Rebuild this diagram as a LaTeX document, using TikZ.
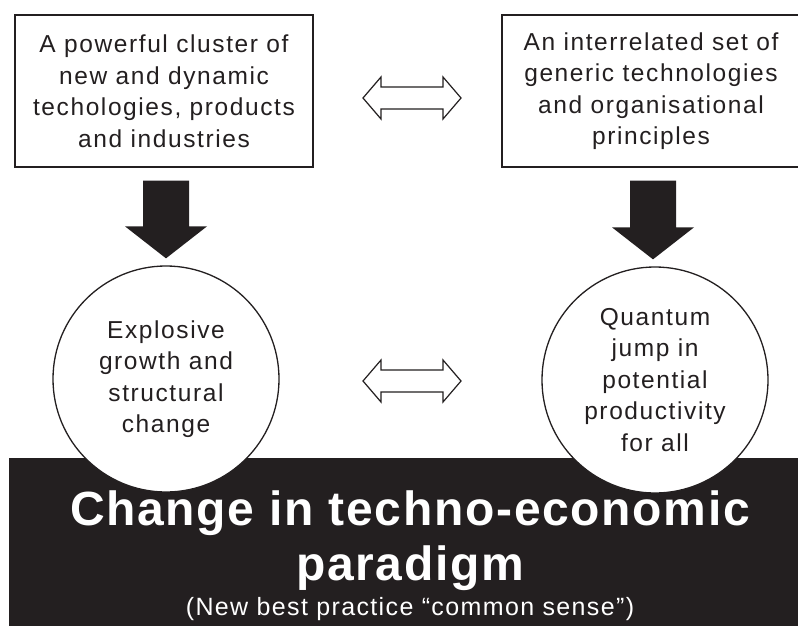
\documentclass[tikz,border=0pt]{standalone}
\usepackage{fontspec}
\setmainfont{Liberation Sans}
\newfontfamily\labelfont[LetterSpace=6.5]{Liberation Sans}
\newfontfamily\headfont[LetterSpace=3.5]{Liberation Sans}
\newfontfamily\subfont[LetterSpace=5.5]{Liberation Sans}
\usetikzlibrary{calc}
\definecolor{ink}{RGB}{35,31,32}
\newcommand{\bodyfont}{\labelfont\fontsize{24.5}{31.5}\selectfont}
\newcommand{\twoway}[2]{\draw[twoway] let \p1=(#1), \p2=(#2) in (\p1)
  -- (\x1+18pt,\y1+21pt) -- (\x1+18pt,\y1+11pt) -- (\x2-18pt,\y2+11pt) -- (\x2-18pt,\y2+21pt)
  -- (\p2)
  -- (\x2-18pt,\y2-21pt) -- (\x2-18pt,\y2-11pt) -- (\x1+18pt,\y1-11pt) -- (\x1+18pt,\y1-21pt)
  -- cycle;}
\newcommand{\push}[2]{\fill[ink] let \p1=(#1), \p2=(#2) in (\x1-23pt,\y1) -- (\x1+23pt,\y1)
  -- (\x1+23pt,\y2+32pt) -- (\x1+41pt,\y2+32pt) -- (\p2) -- (\x1-41pt,\y2+32pt)
  -- (\x1-23pt,\y2+32pt) -- cycle;}

\begin{document}
\begin{tikzpicture}[x=1pt,y=-1pt,
  every node/.style={text=ink,align=center,inner sep=0pt},
  idea/.style={draw=ink,line width=1.4pt,fill=white,minimum width=298pt,minimum height=152pt,font=\bodyfont},
  bubble/.style={draw=ink,line width=1.3pt,fill=white,circle,minimum size=226pt,font=\bodyfont},
  twoway/.style={draw=ink,line width=1.2pt,fill=white,line join=miter},
  title/.style={text=white,anchor=base,font=\headfont\bfseries\fontsize{48}{55}\selectfont}]

	\fill[white] (0,0) rectangle (798,626);
	\useasboundingbox (0,0) rectangle (798,626);

	\path (164,91) node[idea] (tech) {A powerful cluster of\\new and dynamic\\techologies, products\\and industries}
	(651,91) node[idea] (generic) {An interrelated set of\\generic technologies\\and organisational\\principles};

	\path (tech.south) ++(2,13) coordinate (techout)
	(generic.south) ++(2,13) coordinate (genericout)
	(363,98) coordinate (topl) (461,98) coordinate (topr)
	(363,381) coordinate (lowl) (461,381) coordinate (lowr);

	\fill[ink] (9,458) rectangle (805,630);

	\path (166,379) node[bubble] (boom) {Explosive\\growth and\\structural\\change}
	(655,380) node[bubble] (jump) {Quantum\\jump in\\potential\\productivity\\for all};

	\path (boom.north) ++(0,-7) coordinate (boomin)
	(jump.north) ++(-2,-7) coordinate (jumpin);

	\push{techout}{boomin}
	\push{genericout}{jumpin}
	\twoway{topl}{topr}
	\twoway{lowl}{lowr}

	\path (410,525) node[title] (head) {Change in techno-economic}
	(410,580) node[title] (head2) {paradigm}
	(410,615) node[anchor=base,text=white,font=\subfont\fontsize{25}{30}\selectfont] (sub) {(New best practice “common sense”)};

\end{tikzpicture}
\end{document}
